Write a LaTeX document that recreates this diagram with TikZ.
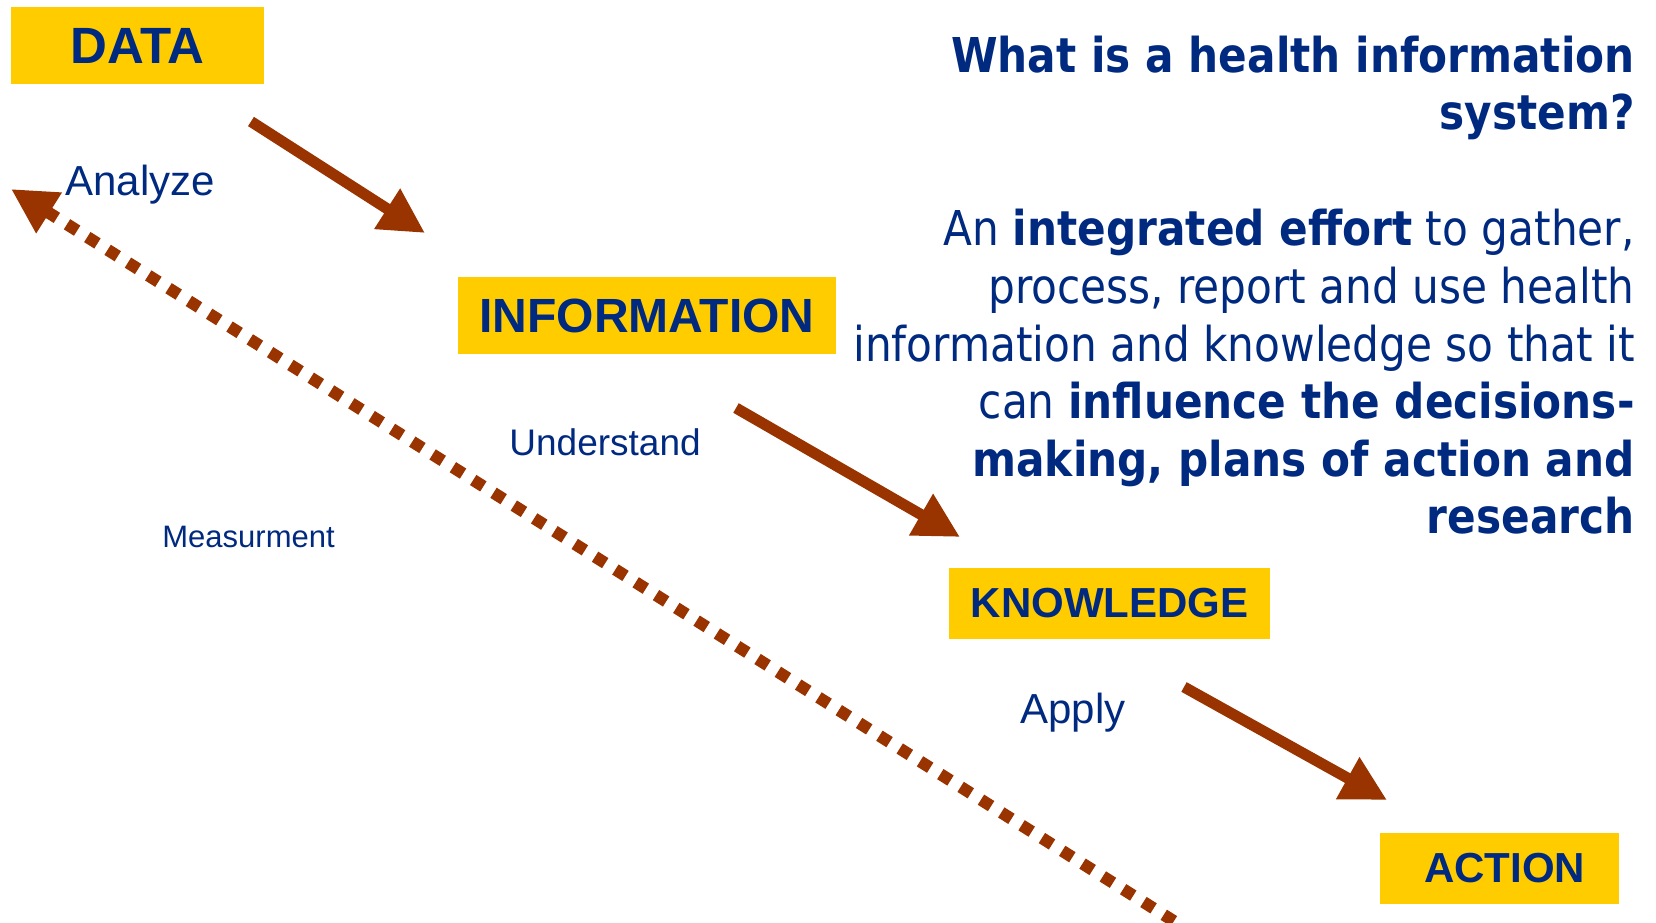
\documentclass[tikz,border=0pt]{standalone}
\usepackage{fontspec}
\usetikzlibrary{arrows.meta}
\newfontfamily\arialf{Liberation Sans}
\newfontfamily\tahf[FakeStretch=0.88]{DejaVu Sans}
\definecolor{navy}{RGB}{0,41,128}
\definecolor{gold}{RGB}{255,204,0}
\definecolor{rust}{RGB}{153,51,0}
\begin{document}
\begin{tikzpicture}[x=0.5pt,y=-0.5pt,
  box/.style={fill=gold, inner sep=0pt, text=navy, anchor=center},
  bigbox/.style={box, font=\arialf\bfseries\fontsize{24}{28}\selectfont, minimum height=38.5pt},
  smallbox/.style={box, font=\arialf\bfseries\fontsize{21}{25}\selectfont, minimum height=35.5pt},
  lab/.style={text=navy, inner sep=0pt, anchor=base west},
  rline/.style={text=navy, inner sep=0pt, anchor=base east, font=\tahf\fontsize{24}{29}\selectfont},
  arr/.style={draw=rust, line width=5.5pt, -{Triangle[length=22.5pt,width=22.5pt]}},
  dotarr/.style={draw=rust, line width=6pt, dash pattern=on 6pt off 6pt, {Triangle[length=22.5pt,width=22.5pt]}-}
]
\useasboundingbox (0,0) rectangle (1656,922);
\clip (0,0) rectangle (1656,922);
\fill[white] (0,0) rectangle (1656,922);

% boxes
\node[bigbox, minimum width=126.5pt, font=\arialf\bfseries\fontsize{25.5}{29}\selectfont] (data) at (137.5,45.5) {DATA};
\node[bigbox, minimum width=189pt] (info) at (647,315.5) {INFORMATION};
\node[smallbox, minimum width=160.5pt] (know) at (1109.5,603.5) {KNOWLEDGE};
\node[smallbox, minimum width=119.5pt] (act) at (1499.5,868.5) {\hspace*{5pt}ACTION};

% labels
\node[lab, font=\arialf\fontsize{21}{25}\selectfont] (analyze) at (65,195) {Analyze};
\node[lab, font=\arialf\fontsize{18.5}{22}\selectfont] (understand) at (509,455) {Understand};
\node[lab, font=\arialf\fontsize{15.5}{18}\selectfont] (meas) at (162,547) {Measurment};
\node[lab, font=\arialf\fontsize{21}{25}\selectfont] (apply) at (1020,723) {Apply};

% arrows
\coordinate (a1s) at (251,121.5); \coordinate (a1e) at (425,233);
\coordinate (a2s) at (736,408);   \coordinate (a2e) at (960,537);
\coordinate (a3s) at (1184,687);  \coordinate (a3e) at (1387,800);
\coordinate (mtip) at (11,189);   \coordinate (mend) at (1180,925);
\draw[arr] (a1s) -- (a1e);
\draw[arr] (a2s) -- (a2e);
\draw[arr] (a3s) -- (a3e);
\draw[dotarr] (mtip) -- (mend);

% right text
\node[rline] (t1) at (1635,72) {\bfseries What is a health information};
\node[rline] (t2) at (1635,129) {\bfseries system?};
\node[rline] (p1) at (1635,245) {An \textbf{integrated effort} to gather,};
\node[rline] (p2) at (1635,303) {process, report and use health};
\node[rline] (p3) at (1635,361) {information and knowledge so that it};
\node[rline] (p4) at (1635,418) {can \textbf{influence the decisions-}};
\node[rline] (p5) at (1635,476) {\bfseries making, plans of action and};
\node[rline] (p6) at (1635,533) {\bfseries research};
\end{tikzpicture}
\end{document}
